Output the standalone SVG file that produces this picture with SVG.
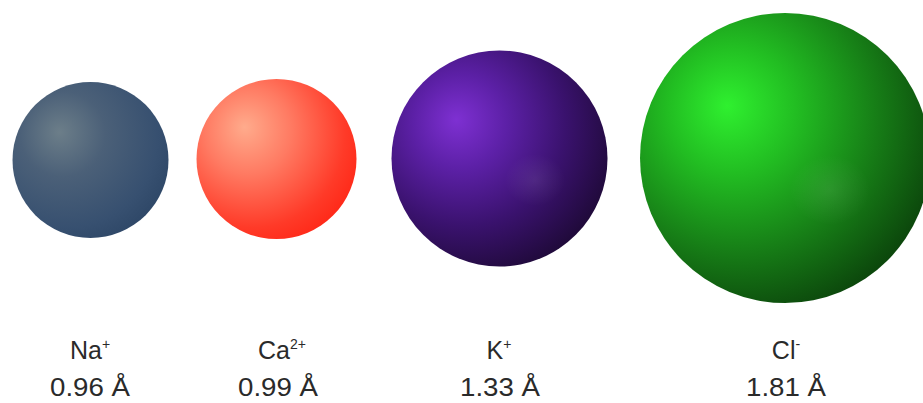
<svg xmlns="http://www.w3.org/2000/svg" width="923" height="403" viewBox="0 0 923 403">
  <defs>
    <radialGradient id="gNa" cx="0.36" cy="0.36" r="0.78" fx="0.3" fy="0.32">
      <stop offset="0" stop-color="#6c7e89"/>
      <stop offset="0.35" stop-color="#4b6078"/>
      <stop offset="0.75" stop-color="#375070"/>
      <stop offset="1" stop-color="#2a4363"/>
    </radialGradient>
    <radialGradient id="gCa" cx="0.36" cy="0.36" r="0.78" fx="0.3" fy="0.3">
      <stop offset="0" stop-color="#ffab8c"/>
      <stop offset="0.35" stop-color="#ff7a62"/>
      <stop offset="0.75" stop-color="#ff3a28"/>
      <stop offset="1" stop-color="#ff2010"/>
    </radialGradient>
    <radialGradient id="gK" cx="0.36" cy="0.36" r="0.78" fx="0.3" fy="0.32">
      <stop offset="0" stop-color="#7e30d2"/>
      <stop offset="0.28" stop-color="#5c20a6"/>
      <stop offset="0.6" stop-color="#3a126e"/>
      <stop offset="1" stop-color="#170729"/>
    </radialGradient>
    <radialGradient id="gCl" cx="0.36" cy="0.36" r="0.78" fx="0.3" fy="0.32">
      <stop offset="0" stop-color="#2ff02f"/>
      <stop offset="0.28" stop-color="#22be22"/>
      <stop offset="0.6" stop-color="#178017"/>
      <stop offset="1" stop-color="#083408"/>
    </radialGradient>
    <radialGradient id="gRefl" cx="0.5" cy="0.5" r="0.5">
      <stop offset="0" stop-color="#ffffff" stop-opacity="0.08"/>
      <stop offset="1" stop-color="#ffffff" stop-opacity="0"/>
    </radialGradient>
  </defs>
  <style>
    text { font-family: "Liberation Sans", Arial, sans-serif; font-size: 25px; fill: #2a2a2a; text-anchor: middle; }
    .sup { font-size: 14px; }
  </style>
  <rect width="923" height="403" fill="#ffffff"/>
  <g id="na">
    <circle cx="90.5" cy="160" r="78" fill="url(#gNa)"/>
    <text x="90" y="359">Na<tspan class="sup" dy="-10">+</tspan></text>
    <text x="90" y="396" textLength="80" lengthAdjust="spacingAndGlyphs">0.96 Å</text>
  </g>
  <g id="ca">
    <circle cx="276.5" cy="159" r="80" fill="url(#gCa)"/>
    <text x="282" y="359">Ca<tspan class="sup" dy="-10">2+</tspan></text>
    <text x="278" y="396" textLength="80" lengthAdjust="spacingAndGlyphs">0.99 Å</text>
  </g>
  <g id="k">
    <circle cx="499.5" cy="158.5" r="108" fill="url(#gK)"/>
    <ellipse cx="535" cy="180" rx="30" ry="26" fill="url(#gRefl)"/>
    <text x="499" y="359">K<tspan class="sup" dy="-10">+</tspan></text>
    <text x="500" y="396" textLength="80" lengthAdjust="spacingAndGlyphs">1.33 Å</text>
  </g>
  <g id="cl">
    <circle cx="785" cy="158" r="145" fill="url(#gCl)"/>
    <ellipse cx="830" cy="190" rx="40" ry="35" fill="url(#gRefl)"/>
    <text x="786" y="359">Cl<tspan class="sup" dy="-10">-</tspan></text>
    <text x="786" y="396" textLength="80" lengthAdjust="spacingAndGlyphs">1.81 Å</text>
  </g>
  <g id="connectors"/>
</svg>
